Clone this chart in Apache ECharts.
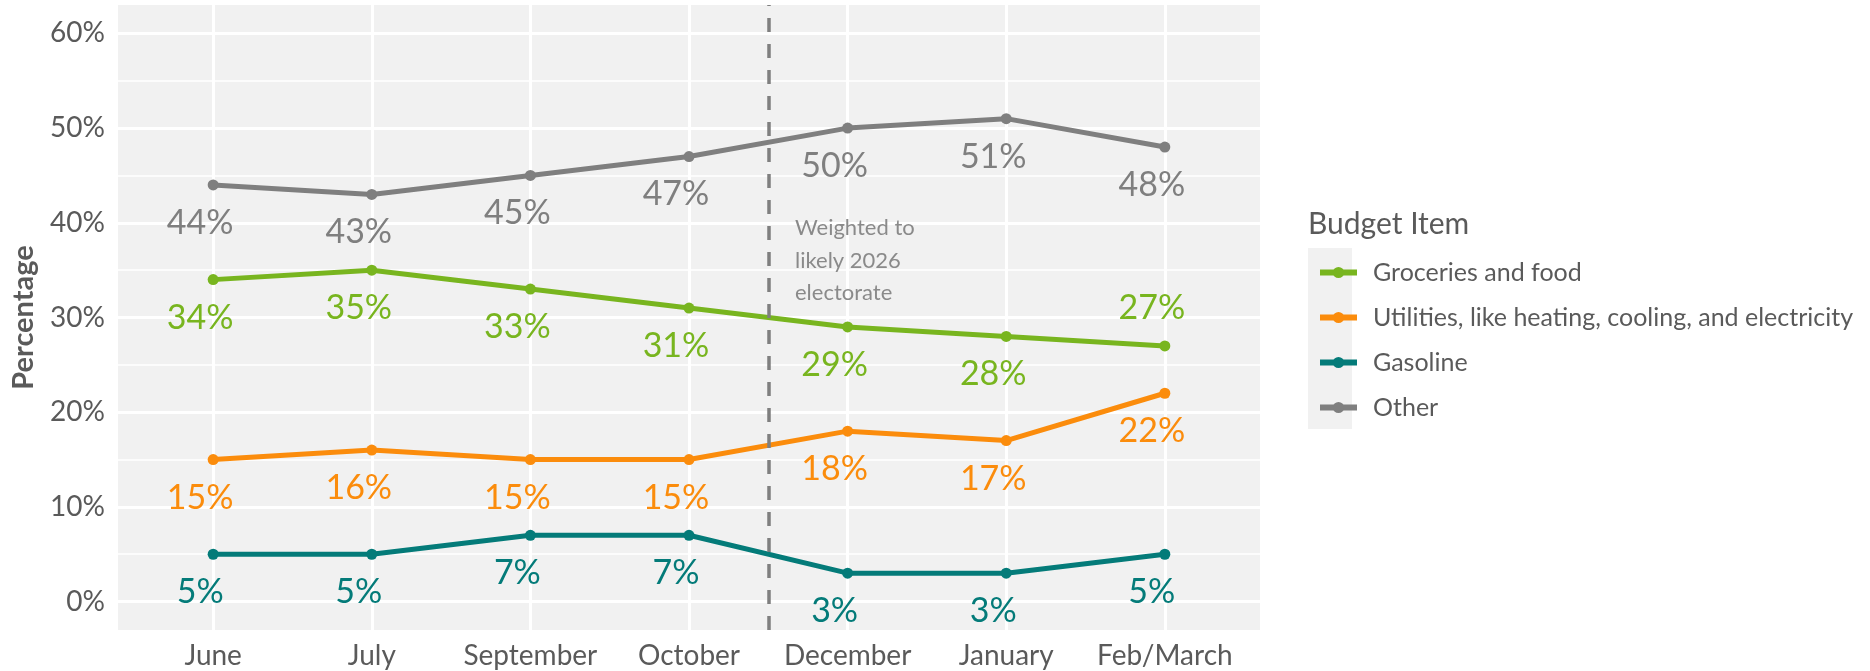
<!DOCTYPE html>
<html>
<head>
<meta charset="utf-8">
<script src="https://cdn.jsdelivr.net/npm/echarts@6/dist/echarts.min.js"></script>
<style>
  html, body { margin: 0; padding: 0; background: #ffffff; }
  #chart { width: 1870px; height: 671px; }
</style>
</head>
<body>
<div id="chart"></div>
<script>
// Survey waves (x axis)
const months = ['June', 'July', 'September', 'October', 'December', 'January', 'Feb/March'];

// Share of respondents naming each item as the biggest budget strain (%)
const groceries = [34, 35, 33, 31, 29, 28, 27];
const utilities = [15, 16, 15, 15, 18, 17, 22];
const gasoline  = [5, 5, 7, 7, 3, 3, 5];
const other     = [44, 43, 45, 47, 50, 51, 48];

// Y tick range (percent)
const yTickMin = 0, yTickMax = 60, yTickStep = 10;

// Weighting change falls between October and December
const electorateBreak = 3.5;

const seriesDefs = [
  { name: 'Groceries and food', data: groceries, color: '#78b51f', labelAbove: [6] },
  { name: 'Utilities, like heating, cooling, and electricity', data: utilities, color: '#fb8c0c', labelAbove: [] },
  { name: 'Gasoline', data: gasoline, color: '#047b79', labelAbove: [] },
  { name: 'Other', data: other, color: '#7f7f7f', labelAbove: [] }
];

const FONT = 'Lato, "Noto Sans", sans-serif';
const TEXT = '#5a5a5a';

// Panel geometry
const panel = { left: 118, right: 1260, top: 5, bottom: 630 };
const W = 1870, H = 671;
const pad = 0.6;      // discrete expansion on each side, in category steps
const yPad = 3;       // continuous expansion below/above, in percent
const step = (panel.right - panel.left) / (months.length - 1 + 2 * pad);
const pxPerPct = (panel.bottom - panel.top) / (yTickMax - yTickMin + 2 * yPad);

const chart = echarts.init(document.getElementById('chart'), null, { renderer: 'canvas' });

const lineSeries = seriesDefs.map(s => ({
  name: s.name,
  type: 'line',
  xAxisIndex: 2,
  yAxisIndex: 2,
  data: s.data.map((v, i) => ({
    value: v,
    label: {
      offset: s.labelAbove.indexOf(i) >= 0 ? [-13, -38] : [-13, 38]
    }
  })),
  symbol: 'circle',
  symbolSize: 11,
  lineStyle: { width: 5, color: s.color },
  itemStyle: { color: s.color },
  label: {
    show: true,
    position: 'inside',
    formatter: p => p.value + '%',
    color: s.color,
    fontFamily: FONT,
    fontSize: 34
  },
  emphasis: { disabled: true },
  z: 3
}));

const option = {
  animation: false,
  backgroundColor: '#ffffff',
  textStyle: { fontFamily: FONT },
  grid: [
    // gray panel, full extent
    { left: panel.left, right: W - panel.right, top: panel.top, bottom: H - panel.bottom,
      show: true, backgroundColor: '#f1f1f1', borderWidth: 0, containLabel: false },
    // value gridlines: exactly 0..60
    { left: panel.left, right: W - panel.right,
      top: panel.bottom - (yTickMax + yPad) * pxPerPct,
      bottom: H - (panel.bottom - yPad * pxPerPct), containLabel: false },
    // category positions: first to last month
    { left: panel.left + pad * step, right: W - (panel.right - pad * step),
      top: panel.top, bottom: H - panel.bottom, containLabel: false }
  ],
  xAxis: [
    { gridIndex: 0, type: 'value', min: -pad, max: months.length - 1 + pad, show: false },
    { gridIndex: 1, type: 'value', min: 0, max: 1, show: false },
    { gridIndex: 2, type: 'category', data: months, boundaryGap: false,
      axisLine: { show: false }, axisTick: { show: false },
      axisLabel: { color: TEXT, fontSize: 28, fontFamily: FONT, margin: 12, interval: 0 },
      splitLine: { show: true, interval: 0, lineStyle: { color: '#ffffff', width: 3 } } }
  ],
  yAxis: [
    { gridIndex: 0, type: 'value', min: yTickMin - yPad, max: yTickMax + yPad, show: false },
    { gridIndex: 1, type: 'value', min: yTickMin, max: yTickMax, interval: yTickStep,
      axisLine: { show: false }, axisTick: { show: false },
      axisLabel: { color: TEXT, fontSize: 28, fontFamily: FONT, margin: 13, formatter: v => v + '%' },
      splitLine: { show: true, lineStyle: { color: '#ffffff', width: 3 } },
      minorTick: { show: false, splitNumber: 2 },
      minorSplitLine: { show: true, lineStyle: { color: '#ffffff', width: 1.5 } },
      name: 'Percentage', nameLocation: 'middle', nameGap: 80, nameRotate: 90,
      nameTextStyle: { color: TEXT, fontSize: 29, fontWeight: 'bold', fontFamily: FONT } },
    { gridIndex: 2, type: 'value', min: yTickMin - yPad, max: yTickMax + yPad, show: false }
  ],
  legend: {
    orient: 'vertical',
    left: 1312,
    top: 255,
    itemWidth: 37,
    itemHeight: 14,
    itemGap: 20,
    data: seriesDefs.map(s => s.name),
    lineStyle: { width: 6 },
    textStyle: { color: TEXT, fontSize: 25, fontFamily: FONT, padding: [0, 0, 0, 11] },
    selectedMode: false
  },
  title: {
    text: 'Budget Item',
    left: 1303,
    top: 204,
    textStyle: { color: TEXT, fontSize: 30, fontWeight: 'normal', fontFamily: FONT }
  },
  graphic: [
    { type: 'rect', left: 1308, top: 248, shape: { width: 44, height: 181 },
      style: { fill: '#f1f1f1' }, z: -1, silent: true },
    { type: 'text', left: 795, top: 212, z: 20,
      style: { text: 'Weighted to\nlikely 2026\nelectorate', fill: '#8a8a8a',
               font: '22px ' + FONT, lineHeight: 32.5 }, silent: true }
  ],
  series: lineSeries.concat([{
    type: 'line',
    xAxisIndex: 0,
    yAxisIndex: 0,
    data: [],
    silent: true,
    z: 4,
    markLine: {
      silent: true,
      symbol: 'none',
      label: { show: false },
      lineStyle: { color: '#7f7f7f', width: 3.5, type: [14, 12] },
      data: [{ xAxis: electorateBreak }]
    }
  }])
};

chart.setOption(option);
</script>
</body>
</html>
